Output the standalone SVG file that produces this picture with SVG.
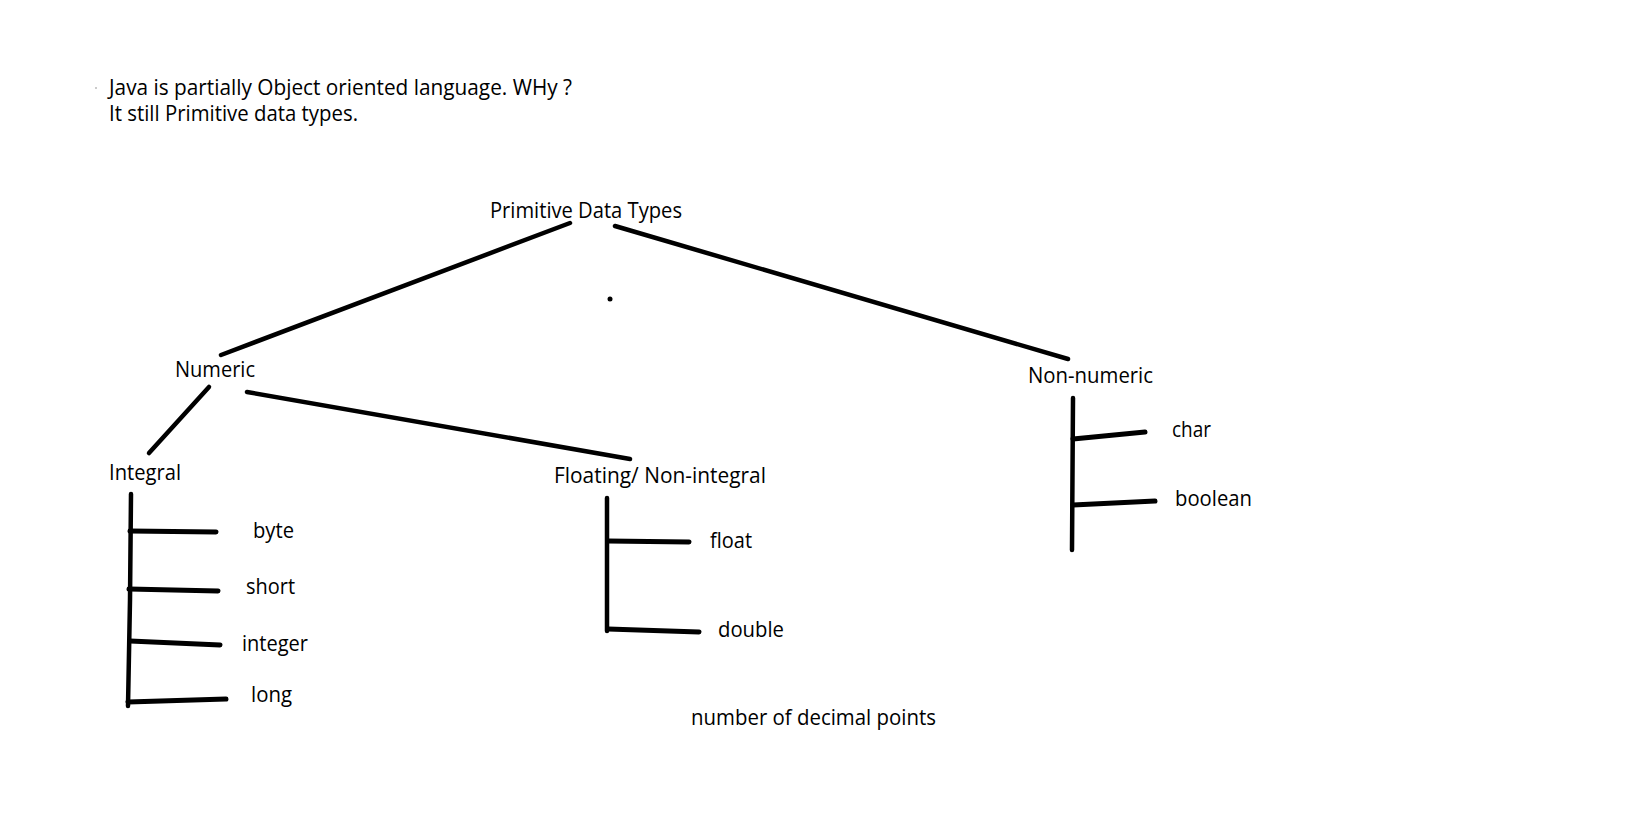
<svg xmlns="http://www.w3.org/2000/svg" width="1630" height="831" viewBox="0 0 1630 831">
<style>
text{font-family:"Open Sans","Noto Sans","Liberation Sans",sans-serif;font-size:21px;fill:#000}
.c{stroke:#000;stroke-width:4.5;stroke-linecap:round;fill:none}
.b{stroke:#000;stroke-width:5;stroke-linecap:round;fill:none}
</style>
<rect width="1630" height="831" fill="#fff"/>
<g id="note">
<circle cx="96" cy="88" r="0.8" fill="#888"/>
<text x="109" y="95" textLength="463" lengthAdjust="spacingAndGlyphs">Java is partially Object oriented language. WHy ?</text>
<text x="109" y="121" textLength="249" lengthAdjust="spacingAndGlyphs">It still Primitive data types.</text>
</g>
<g id="connectors">
<line class="c" x1="570" y1="223" x2="221" y2="355"/>
<line class="c" x1="615" y1="226" x2="1068" y2="359"/>
<line class="c" x1="209" y1="387" x2="149" y2="453"/>
<line class="c" x1="247" y1="392" x2="630" y2="459"/>
<polyline class="c" points="131,494 130,600 128,706"/>
<line class="b" x1="130" y1="531" x2="216" y2="532"/>
<line class="b" x1="129" y1="589" x2="218" y2="591"/>
<line class="b" x1="130" y1="641" x2="220" y2="645"/>
<line class="b" x1="128" y1="702" x2="226" y2="699"/>
<line class="c" x1="607" y1="498" x2="607" y2="631"/>
<line class="b" x1="608" y1="541" x2="689" y2="542"/>
<line class="b" x1="608" y1="629" x2="699" y2="632"/>
<line class="c" x1="1073" y1="398" x2="1072" y2="550"/>
<line class="b" x1="1073" y1="439" x2="1145" y2="432"/>
<line class="b" x1="1073" y1="505" x2="1155" y2="501"/>
</g>
<circle cx="610" cy="299" r="2.5" fill="#000"/>
<g id="primitive"><text x="490" y="218" textLength="192" lengthAdjust="spacingAndGlyphs">Primitive Data Types</text></g>
<g id="numeric"><text x="175" y="377" textLength="80" lengthAdjust="spacingAndGlyphs">Numeric</text></g>
<g id="nonnumeric"><text x="1028" y="383" textLength="125" lengthAdjust="spacingAndGlyphs">Non-numeric</text></g>
<g id="integral"><text x="109" y="480" textLength="72" lengthAdjust="spacingAndGlyphs">Integral</text></g>
<g id="floating"><text x="554" y="483" textLength="212" lengthAdjust="spacingAndGlyphs">Floating/ Non-integral</text></g>
<g id="byte"><text x="253" y="538" textLength="41" lengthAdjust="spacingAndGlyphs">byte</text></g>
<g id="short"><text x="246" y="594" textLength="49" lengthAdjust="spacingAndGlyphs">short</text></g>
<g id="integer"><text x="242" y="651" textLength="66" lengthAdjust="spacingAndGlyphs">integer</text></g>
<g id="long"><text x="251" y="702" textLength="41" lengthAdjust="spacingAndGlyphs">long</text></g>
<g id="float"><text x="710" y="548" textLength="42" lengthAdjust="spacingAndGlyphs">float</text></g>
<g id="double"><text x="718" y="637" textLength="66" lengthAdjust="spacingAndGlyphs">double</text></g>
<g id="char"><text x="1172" y="437" textLength="39" lengthAdjust="spacingAndGlyphs">char</text></g>
<g id="boolean"><text x="1175" y="506" textLength="77" lengthAdjust="spacingAndGlyphs">boolean</text></g>
<g id="note2"><text x="691" y="725" textLength="245" lengthAdjust="spacingAndGlyphs">number of decimal points</text></g>
</svg>
